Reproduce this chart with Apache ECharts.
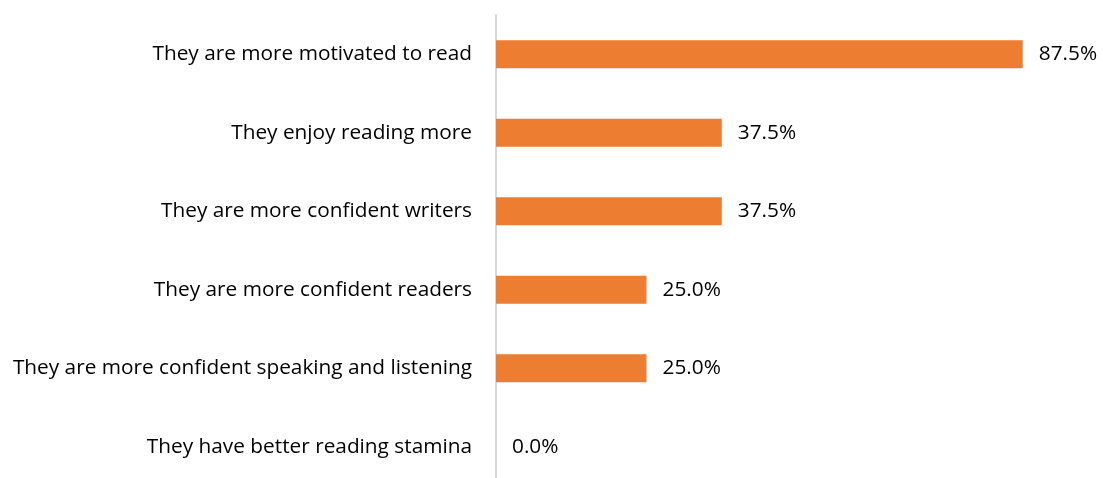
<!DOCTYPE html>
<html>
<head>
<meta charset="utf-8">
<script src="https://cdn.jsdelivr.net/npm/echarts@6/dist/echarts.min.js"></script>
<style>
html,body{margin:0;padding:0;background:#fff;}
#chart{width:1103px;height:478px;}
</style>
</head>
<body>
<div id="chart"></div>
<script>
const categories = [
  "They are more motivated to read",
  "They enjoy reading more",
  "They are more confident writers",
  "They are more confident readers",
  "They are more confident speaking and listening",
  "They have better reading stamina"
];
const values = [87.5, 37.5, 37.5, 25.0, 25.0, 0.0];

const chart = echarts.init(document.getElementById('chart'));
chart.setOption({
  animation: false,
  grid: {left: 496, right: 5, top: 15, height: 471, containLabel: false, outerBoundsMode: 'none'},
  xAxis: {
    type: 'value', min: 0, max: 100,
    show: false
  },
  yAxis: {
    type: 'category',
    inverse: true,
    data: categories,
    axisLine: {show: true, lineStyle: {color: '#d9d9d9', width: 2}},
    axisTick: {show: false},
    axisLabel: {
      margin: 24, color: '#000', fontSize: 20.8, fontFamily: 'Open Sans'
    }
  },
  series: [{
    type: 'bar',
    data: values,
    barWidth: 28,
    itemStyle: {color: '#ED7D31'},
    label: {
      show: true, position: 'right', distance: 16,
      color: '#000', fontSize: 20.8, fontFamily: 'Open Sans',
      formatter: p => p.value.toFixed(1) + '%'
    }
  }]
});
</script>
</body>
</html>
